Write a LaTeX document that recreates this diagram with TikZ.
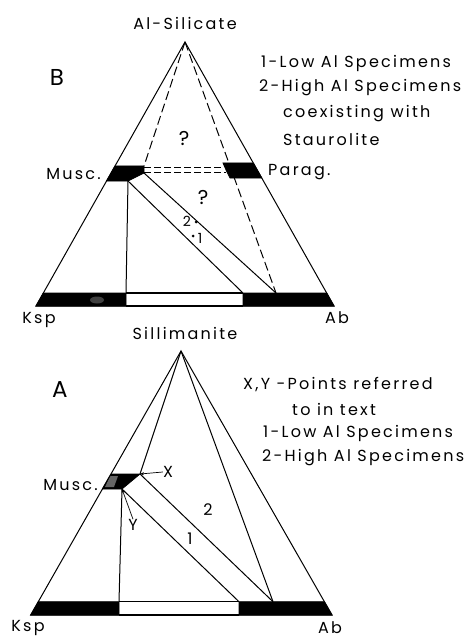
\documentclass[tikz,border=0pt]{standalone}
\usepackage{fontspec}
\setmainfont[LetterSpace=14]{Poppins}
\usetikzlibrary{arrows.meta}
\tikzset{
  edge/.style={line width=1pt},
  longdash/.style={line width=1pt, dash pattern=on 9pt off 4pt},
  band/.style={fill=black, draw=black, line width=0.8pt},
  lab/.style={font=\fontsize{16}{18}\selectfont, inner sep=0pt},
  big/.style={font=\fontsize{23}{25}\selectfont, inner sep=0pt},
  qmark/.style={font=\fontsize{20}{22}\selectfont, inner sep=0pt},
  small/.style={font=\fontsize{14}{16}\selectfont, inner sep=0pt},
  pointer/.style={line width=0.7pt, -{Stealth[length=4pt,width=3pt]}}
}
\begin{document}
\begin{tikzpicture}[x=1pt,y=-1pt]
\useasboundingbox (0,0) rectangle (469,639);
% ---------------- Panel B ----------------
\coordinate (Btop) at (185,42);
\coordinate (BL) at (36,306);
\coordinate (BR) at (334,306);
\coordinate (BLt) at (43.3,293);
\coordinate (BRt) at (326.7,293);
\coordinate (Bw1) at (126,293);
\coordinate (Bw1b) at (126,306);
\coordinate (Bw2) at (243,293);
\coordinate (Bw2b) at (243,306);
\coordinate (Bd) at (276,293);
\coordinate (Bm1) at (115,166);
\coordinate (Bm2) at (144,166);
\coordinate (Bm3) at (144,173);
\coordinate (Bm4) at (128,181);
\coordinate (Bm5) at (106.5,181);
\coordinate (Bp1) at (223,163);
\coordinate (Bp2) at (253.3,163);
\coordinate (Bp3) at (261.8,178);
\coordinate (Bp4) at (230,178);
\coordinate (Bp5) at (226.5,171);
% bands
\fill[band] (BL) -- (BLt) -- (Bw1) -- (Bw1b) -- cycle;
\fill[band] (Bw2b) -- (Bw2) -- (BRt) -- (BR) -- cycle;
\fill[black!75] (97,300) ellipse (7pt and 3.5pt);
\draw[line width=1.2pt] (Bw1) -- (Bw2) (Bw1b) -- (Bw2b);
\fill[band] (Bm1) -- (Bm2) -- (Bm3) -- (Bm4) -- (Bm5) -- cycle;
\fill[band] (Bp1) -- (Bp2) -- (Bp3) -- (Bp4) -- (Bp5) -- cycle;
% triangle
\draw[edge] (BL) -- (Btop) -- (BR) -- cycle;
% dashed lines
\draw[longdash] (Btop) -- (Bm2);
\draw[longdash] (Btop) -- (Bd);
\coordinate (Bh1a) at (144,167); \coordinate (Bh1b) at (223,167);
\coordinate (Bh2a) at (144,172); \coordinate (Bh2b) at (226,172);
\draw[line width=0.9pt, dash pattern=on 7pt off 3pt] (Bh1a) -- (Bh1b);
\draw[line width=0.9pt, dash pattern=on 7pt off 3pt] (Bh2a) -- (Bh2b);
% solid tie lines
\draw[edge] (Bm4) -- (Bw1);
\draw[edge] (Bm4) -- (Bw2);
\draw[edge] (Bm3) -- (Bd);
% points
\fill (196,222) circle (1.5pt);
\fill (193,236) circle (1.5pt);
\node[small] (b2) at (187,221) {2};
\node[small] (b1) at (200,238) {1};
\node[qmark] (bq1) at (184,139) {?};
\node[qmark] (bq2) at (203,197) {?};
% labels
\node[lab] (bal) at (185,23) {Al-Silicate};
\node[big] (bB) at (57,77) {B};
\node[lab, anchor=east] (bmusc) at (101,174) {Musc.};
\node[lab, anchor=west] (bparag) at (268,172) {Parag.};
\node[lab] (bksp) at (39,320) {Ksp};
\node[lab] (bab) at (337,318) {Ab};
\node[lab, anchor=west] (bl1) at (261,63) {1-Low Al Specimens};
\node[lab, anchor=west] (bl2) at (259,88) {2-High Al Specimens};
\node[lab, anchor=west] (bl3) at (283,114) {coexisting with};
\node[lab, anchor=west] (bl4) at (283,139) {Staurolite};
% ---------------- Panel A ----------------
\coordinate (Atop) at (181,351);
\coordinate (AL) at (30.7,615);
\coordinate (AR) at (332,615);
\coordinate (ALt) at (38.3,601.7);
\coordinate (ARt) at (324.4,601.7);
\coordinate (Aw1) at (119,601.7);
\coordinate (Aw1b) at (119,615);
\coordinate (Aw2) at (239,601.7);
\coordinate (Aw2b) at (239,615);
\coordinate (Ad) at (273,601.7);
\coordinate (Am1) at (111,474);
\coordinate (Am2) at (140,474);
\coordinate (Am3) at (122,489);
\coordinate (Am4) at (102.4,489);
\fill[band] (AL) -- (ALt) -- (Aw1) -- (Aw1b) -- cycle;
\fill[band] (Aw2b) -- (Aw2) -- (ARt) -- (AR) -- cycle;
\draw[line width=1.2pt] (Aw1) -- (Aw2) (Aw1b) -- (Aw2b);
\fill[band] (Am1) -- (Am2) -- (Am3) -- (Am4) -- cycle;
\fill[black!60] (110,476) -- (118,476) -- (114,487) -- (105,487) -- cycle;
\draw[edge] (AL) -- (Atop) -- (AR) -- cycle;
\draw[edge] (Atop) -- (Am2);
\draw[edge] (Atop) -- (Ad);
\draw[edge] (Am3) -- (Aw1);
\draw[edge] (Am3) -- (Aw2);
\draw[edge] (Am2) -- (Ad);
\node[lab] (aX) at (168,472) {X};
\node[lab] (aY) at (133,525) {Y};
\draw[pointer] (aX.west) -- (Am2);
\draw[pointer] (aY.north) -- (Am3);
\node[lab] (a2) at (208,510) {2};
\node[lab] (a1) at (190,539) {1};
\node[lab] (asil) at (185,333) {Sillimanite};
\node[big] (aA) at (60,390) {A};
\node[lab, anchor=east] (amusc) at (98,485) {Musc.};
\node[lab] (aksp) at (28,628) {Ksp};
\node[lab] (aab) at (330,628) {Ab};
\node[lab, anchor=west] (al1) at (243,385) {X,Y -Points referred};
\node[lab, anchor=west] (al2) at (292,409) {to in text};
\node[lab, anchor=west] (al3) at (263,433) {1-Low Al Specimens};
\node[lab, anchor=west] (al4) at (262,458) {2-High Al Specimens};
\end{tikzpicture}
\end{document}
